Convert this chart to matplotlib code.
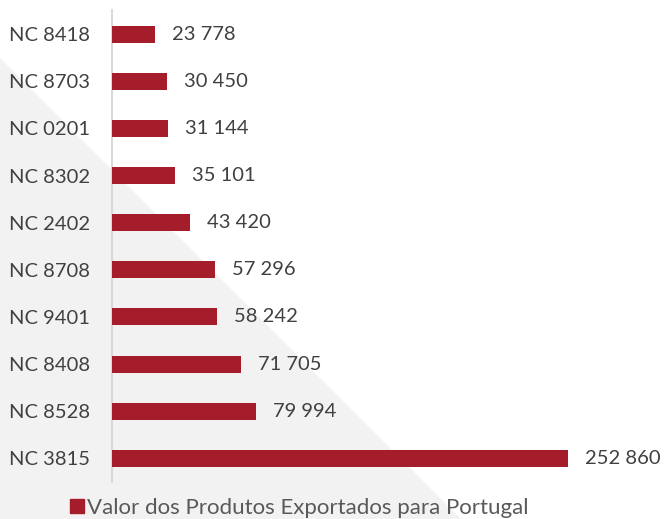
import matplotlib
matplotlib.use("Agg")
import matplotlib.pyplot as plt
from matplotlib.patches import Polygon, Rectangle

categories = ["NC 8418", "NC 8703", "NC 0201", "NC 8302", "NC 2402",
              "NC 8708", "NC 9401", "NC 8408", "NC 8528", "NC 3815"]
values = [23778, 30450, 31144, 35101, 43420, 57296, 58242, 71705, 79994, 252860]
legend_label = "Valor dos Produtos Exportados para Portugal"

bar_color = "#A51D2B"
text_color = "#404040"
plt.rcParams["font.family"] = ["Lato", "DejaVu Sans"]
FS = 14.5

W, H = 666, 519
fig = plt.figure(figsize=(W / 100, H / 100), dpi=100)

# background triangle in a background axes
bg = fig.add_axes([0, 0, 1, 1], zorder=-1)
bg.set_xlim(0, W)
bg.set_ylim(H, 0)
bg.axis("off")
bg.add_patch(Polygon([(0, 58), (0, H), (461, H)], closed=True,
                     facecolor="#F2F2F2", edgecolor="none"))

ax = fig.add_axes([112 / W, 37 / H, (653 - 112) / W, (508.5 - 37) / H], zorder=1)
ax.patch.set_alpha(0)

ypos = list(range(len(categories)))[::-1]
ax.barh(ypos, values, height=0.36, color=bar_color, zorder=3)
ax.set_ylim(-0.5, len(categories) - 0.5)
ax.set_xlim(0, 300000)

for y, v in zip(ypos, values):
    ax.annotate(f"{v:,}".replace(",", " "), xy=(v, y), xytext=(12, 0),
                textcoords="offset points", va="center", ha="left",
                fontsize=FS, color=text_color)

ax.set_yticks(ypos)
ax.set_yticklabels(categories, fontsize=FS, color=text_color)
ax.tick_params(axis="y", length=0, pad=16)
ax.set_xticks([])
for s in ["top", "right", "bottom"]:
    ax.spines[s].set_visible(False)
ax.spines["left"].set_color("#D9D9D9")
ax.spines["left"].set_linewidth(1.5)

handle = Rectangle((0, 0), 1, 1, color=bar_color)
fig.legend([handle], [legend_label], loc="center", bbox_to_anchor=(299 / W, 1 - 508 / H),
           frameon=False, fontsize=16, handlelength=0.63, handleheight=0.63,
           handletextpad=0.15, borderpad=0, labelcolor="#595959")

fig.savefig("out.png", dpi=100)
